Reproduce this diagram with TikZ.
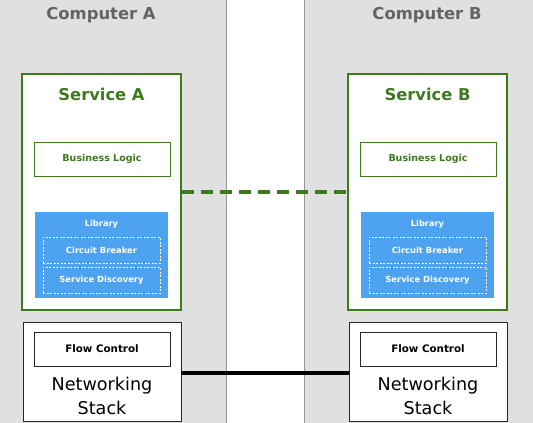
\documentclass[tikz,border=0pt]{standalone}
\usepackage{fontspec}
\setmainfont{DejaVu Sans}
\definecolor{panelgrey}{RGB}{224,224,224}
\definecolor{panelline}{RGB}{150,150,150}
\definecolor{svcgreen}{RGB}{62,122,30}
\definecolor{libblue}{RGB}{77,163,240}
\definecolor{titlegrey}{RGB}{100,100,100}
\tikzset{
  panel/.style={fill=panelgrey, draw=panelline, line width=0.8pt},
  svcbox/.style={draw=svcgreen, fill=white, line width=1.8pt, inner sep=0pt},
  blbox/.style={draw=svcgreen, fill=white, line width=0.8pt, inner sep=0pt, minimum width=136pt, minimum height=34pt, text=svcgreen, font=\bfseries\fontsize{9.5}{11}\selectfont},
  libbox/.style={fill=libblue, inner sep=0pt, minimum width=133pt, minimum height=86pt},
  libitem/.style={draw=white, dashed, dash pattern=on 2pt off 1.5pt, line width=0.6pt, inner sep=0pt, minimum width=117pt, minimum height=26pt, text=white, font=\bfseries\fontsize{8.4}{10}\selectfont},
  netbox/.style={draw=black!85, fill=white, line width=0.8pt, inner sep=0pt, minimum width=158pt, minimum height=99pt},
  fcbox/.style={draw=black!85, fill=white, line width=0.8pt, inner sep=0pt, minimum width=136pt, minimum height=34pt, font=\bfseries\fontsize{10.3}{12}\selectfont},
  comptitle/.style={text=titlegrey, font=\bfseries\fontsize{16.4}{19}\selectfont},
  svctitle/.style={text=svcgreen, font=\bfseries\fontsize{16.3}{19}\selectfont},
  nettext/.style={align=center, font=\fontsize{17.6}{24}\selectfont},
  libtitle/.style={text=white, font=\bfseries\fontsize{8.3}{10}\selectfont},
}
\begin{document}
\begin{tikzpicture}[x=1pt, y=-1pt]
\useasboundingbox (0,0) rectangle (533,423);
% panels
\draw[panel] (-2,-2) rectangle (226,425);
\draw[panel] (304,-2) rectangle (535,425);
% titles
\node[comptitle] (compA) at (101,15) {Computer A};
\node[comptitle] (compB) at (427,15) {Computer B};
% services
\foreach \s/\dx/\L in {A/0/A, B/326/B} {
  \node[svcbox, minimum width=159pt, minimum height=236pt] (serv\s) at (101.5+\dx,192) {};
  \node[svctitle] (title\s) at (101.5+\dx,94) {Service \L};
  \node[blbox] (bl\s) at (102+\dx,159) {Business Logic};
  \node[libbox] (lib\s) at (101.5+\dx,255) {};
  \node[libtitle] (libt\s) at (101.5+\dx,224) {Library};
  \node[libitem] (cb\s) at (101.5+\dx,250) {Circuit Breaker};
  \node[libitem] (sd\s) at (101.5+\dx,280) {Service Discovery};
  \node[netbox] (net\s) at (102+\dx,371.5) {};
  \node[fcbox] (fc\s) at (102+\dx,349) {Flow Control};
  \node[nettext] (nett\s) at (102+\dx,396) {Networking\\Stack};
}
% connectors
\draw[svcgreen, line width=4pt, dash pattern=on 12pt off 7pt] (servA.east) -- (servB.west);
\draw[black, line width=4pt] ([yshift=-1.5pt]netA.east) -- ([yshift=-1.5pt]netB.west);
\end{tikzpicture}
\end{document}
